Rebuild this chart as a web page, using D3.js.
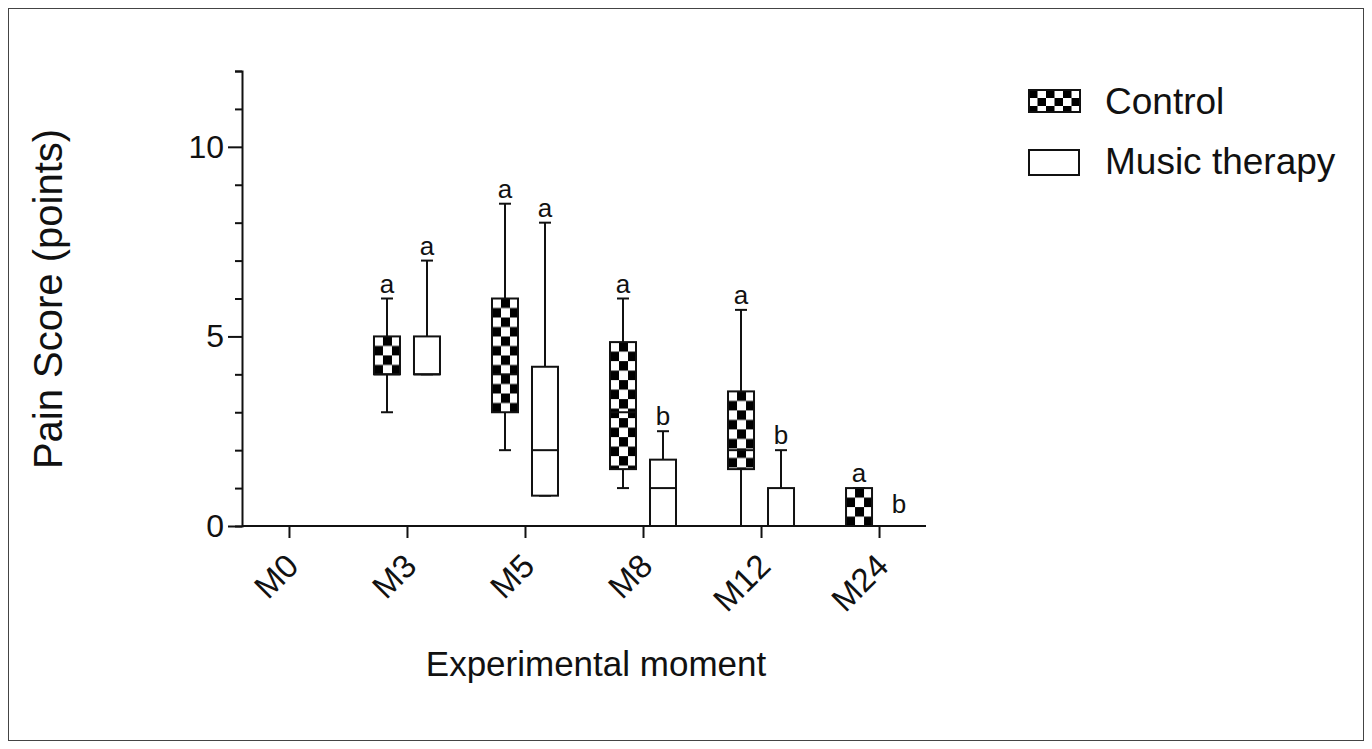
<!DOCTYPE html>
<html>
<head>
<meta charset="utf-8">
<script src="https://cdn.jsdelivr.net/npm/d3@7"></script>
<style>
  body { margin: 0; background: #fff; }
  svg { display: block; }
  text { font-family: Arial, "Liberation Sans", Helvetica, sans-serif; fill: #111; }
</style>
</head>
<body>
<div id="chart"></div>
<script>
// Data
const moments = ["M0", "M3", "M5", "M8", "M12", "M24"];
const groups = ["Control", "Music therapy"];

// box stats per moment (null = nothing drawn)
const controlMin    = [null, 3, 2, 1, 0, 0];
const controlQ1     = [null, 4, 3, 1.5, 1.5, 0];
const controlMedian = [null, 4, 4, 3, 2, 0];
const controlQ3     = [null, 5, 6, 4.85, 3.55, 1];
const controlMax    = [null, 6, 8.5, 6, 5.7, 1];

const musicMin    = [null, 4, 0.8, 0, 0, 0];
const musicQ1     = [null, 4, 0.8, 0, 0, 0];
const musicMedian = [null, 4, 2, 1, 0, 0];
const musicQ3     = [null, 5, 4.2, 1.75, 1, 0];
const musicMax    = [null, 7, 8, 2.5, 2, 0];

const controlLetters = ["", "a", "a", "a", "a", "a"];
const musicLetters   = ["", "a", "a", "b", "b", "b"];

const yTicks = d3.range(0, 13);
const yLabels = [0, 5, 10];

const width = 1372;
const height = 749;

const svg = d3.select("#chart")
  .append("svg")
  .attr("width", width)
  .attr("height", height);

// thin frame round the figure
svg.append("rect")
  .attr("x", 8.5).attr("y", 8.5)
  .attr("width", width - 17).attr("height", height - 17)
  .attr("fill", "none")
  .attr("stroke", "#444")
  .attr("stroke-width", 1);

const defs = svg.append("defs");

const x = d3.scalePoint()
  .domain(moments)
  .range([242, 926])
  .padding(0.398);

const y = d3.scaleLinear()
  .domain([0, 12])
  .range([526, 71]);

const boxW = 26;
const offset = 20;
const capW = 12;

// checker fill anchored at the box's top-left corner
let patternCount = 0;
function checker(left, top, cw, ch, blackFirst) {
  const id = "chk" + (patternCount++);
  const p = defs.append("pattern")
    .attr("id", id)
    .attr("patternUnits", "userSpaceOnUse")
    .attr("x", left).attr("y", top)
    .attr("width", cw * 2).attr("height", ch * 2);
  p.append("rect").attr("width", cw * 2).attr("height", ch * 2).attr("fill", "#fff");
  if (blackFirst) {
    p.append("rect").attr("x", 0).attr("y", 0).attr("width", cw).attr("height", ch).attr("fill", "#000");
    p.append("rect").attr("x", cw).attr("y", ch).attr("width", cw).attr("height", ch).attr("fill", "#000");
  } else {
    p.append("rect").attr("x", cw).attr("y", 0).attr("width", cw).attr("height", ch).attr("fill", "#000");
    p.append("rect").attr("x", 0).attr("y", ch).attr("width", cw).attr("height", ch).attr("fill", "#000");
  }
  return `url(#${id})`;
}

function series(min, q1, med, q3, max, letters, shift, patterned) {
  return moments.map((m, i) => ({
    moment: m, min: min[i], q1: q1[i], med: med[i], q3: q3[i], max: max[i],
    letter: letters[i], cx: x(m) + shift, patterned
  }));
}

const boxes = series(controlMin, controlQ1, controlMedian, controlQ3, controlMax, controlLetters, -offset, true)
  .concat(series(musicMin, musicQ1, musicMedian, musicQ3, musicMax, musicLetters, offset, false));

const plot = svg.append("g");

boxes.forEach(d => {
  const g = plot.append("g");
  if (d.q1 !== null) {
    // whiskers
    g.append("line")
      .attr("x1", d.cx).attr("x2", d.cx)
      .attr("y1", y(d.max)).attr("y2", y(d.q3))
      .attr("stroke", "#111").attr("stroke-width", 2);
    g.append("line")
      .attr("x1", d.cx).attr("x2", d.cx)
      .attr("y1", y(d.q1)).attr("y2", y(d.min))
      .attr("stroke", "#111").attr("stroke-width", 2);
    [d.max, d.min].forEach(v => {
      g.append("line")
        .attr("x1", d.cx - capW / 2).attr("x2", d.cx + capW / 2)
        .attr("y1", y(v)).attr("y2", y(v))
        .attr("stroke", "#111").attr("stroke-width", 2);
    });
    const left = d.cx - boxW / 2;
    const top = y(d.q3);
    const h = y(d.q1) - y(d.q3);
    if (h > 0) {
      g.append("rect")
        .attr("x", left).attr("y", top)
        .attr("width", boxW).attr("height", h)
        .attr("fill", d.patterned ? checker(left, top, 9, 9.5, false) : "#fff")
        .attr("stroke", "#111").attr("stroke-width", 2);
      g.append("line")
        .attr("x1", left).attr("x2", left + boxW)
        .attr("y1", y(d.med)).attr("y2", y(d.med))
        .attr("stroke", "#111").attr("stroke-width", 2);
    }
  }
  if (d.letter) {
    g.append("text")
      .attr("x", d.cx)
      .attr("y", Math.min(y(d.max) - 6, y(0) - 13))
      .attr("text-anchor", "middle")
      .style("font-size", "26px")
      .text(d.letter);
  }
});

// Y axis
const yAxis = svg.append("g")
  .attr("transform", "translate(242,0)")
  .call(d3.axisLeft(y)
    .tickValues(yTicks)
    .tickSizeOuter(0)
    .tickSize(7)
    .tickPadding(6)
    .tickFormat(d => yLabels.includes(d) ? d : ""));
yAxis.select(".domain").attr("stroke", "#111").attr("stroke-width", 2);
yAxis.selectAll(".tick line").attr("stroke", "#111").attr("stroke-width", 2)
  .attr("x2", d => yLabels.includes(d) ? -14 : -7);
yAxis.selectAll(".tick text")
  .attr("x", -18)
  .style("font-size", "32px")
  .style("fill", "#111");

// X axis
const xAxis = svg.append("g")
  .attr("transform", `translate(0,${y(0)})`)
  .call(d3.axisBottom(x).tickSize(12).tickSizeOuter(0));
xAxis.select(".domain").attr("stroke", "#111").attr("stroke-width", 2)
  .attr("d", "M242,0H926");
xAxis.selectAll(".tick line").attr("stroke", "#111").attr("stroke-width", 2);
xAxis.selectAll(".tick text")
  .attr("x", 0).attr("y", 0).attr("dy", 0)
  .attr("transform", "translate(11,42) rotate(-45)")
  .attr("text-anchor", "end")
  .style("font-size", "33px")
  .style("fill", "#111");

// axis titles
svg.append("text")
  .attr("transform", "translate(62,299) rotate(-90)")
  .attr("text-anchor", "middle")
  .style("font-size", "40px")
  .text("Pain Score (points)");

svg.append("text")
  .attr("x", 596).attr("y", 676)
  .attr("text-anchor", "middle")
  .style("font-size", "35px")
  .text("Experimental moment");

// legend
const legend = svg.append("g");
legend.append("rect")
  .attr("x", 1029).attr("y", 90)
  .attr("width", 51).attr("height", 22)
  .attr("fill", checker(1029, 90, 8.5, 8, true))
  .attr("stroke", "#111").attr("stroke-width", 2);
legend.append("rect")
  .attr("x", 1029).attr("y", 150)
  .attr("width", 50).attr("height", 25)
  .attr("fill", "#fff")
  .attr("stroke", "#111").attr("stroke-width", 2);
legend.selectAll("text.lg")
  .data(groups)
  .join("text")
    .attr("class", "lg")
    .attr("x", 1105)
    .attr("y", (d, i) => 114 + i * 60)
    .style("font-size", "37px")
    .text(d => d);
</script>
</body>
</html>
